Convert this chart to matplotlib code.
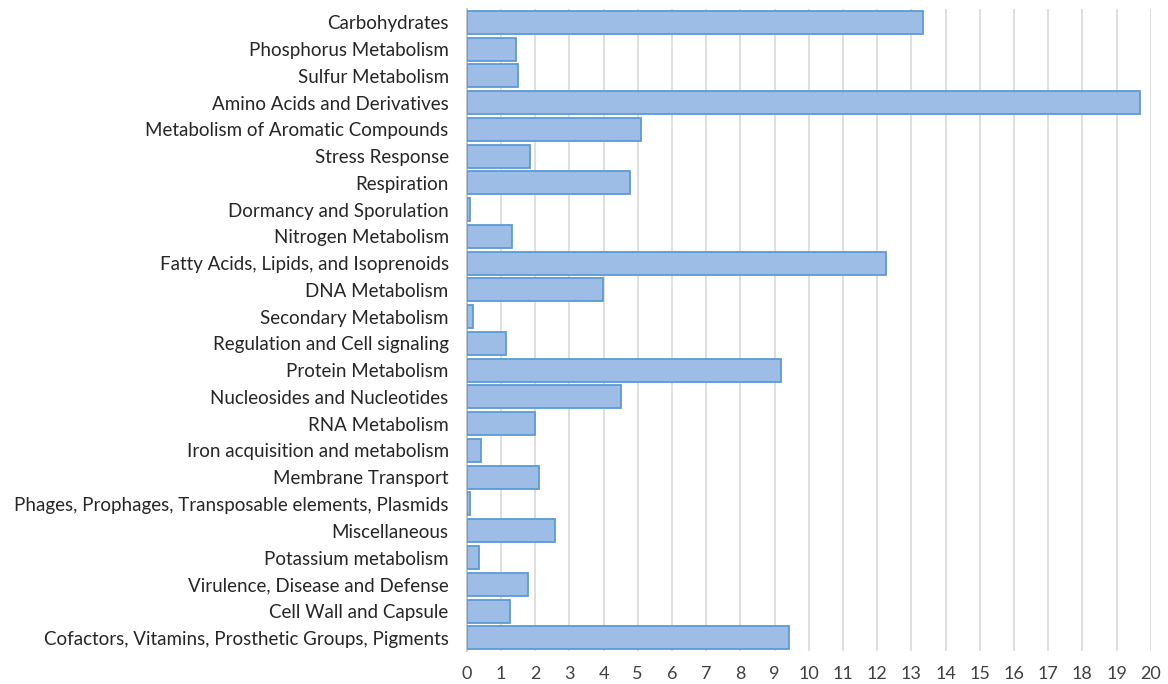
import matplotlib
matplotlib.use("Agg")
import matplotlib.pyplot as plt

plt.rcParams['font.family'] = ['Lato', 'DejaVu Sans']

categories = [
    "Carbohydrates",
    "Phosphorus Metabolism",
    "Sulfur Metabolism",
    "Amino Acids and Derivatives",
    "Metabolism of Aromatic Compounds",
    "Stress Response",
    "Respiration",
    "Dormancy and Sporulation",
    "Nitrogen Metabolism",
    "Fatty Acids, Lipids, and Isoprenoids",
    "DNA Metabolism",
    "Secondary Metabolism",
    "Regulation and Cell signaling",
    "Protein Metabolism",
    "Nucleosides and Nucleotides",
    "RNA Metabolism",
    "Iron acquisition and metabolism",
    "Membrane Transport",
    "Phages, Prophages, Transposable elements, Plasmids",
    "Miscellaneous",
    "Potassium metabolism",
    "Virulence, Disease and Defense",
    "Cell Wall and Capsule",
    "Cofactors, Vitamins, Prosthetic Groups, Pigments",
]
values = [13.35, 1.43, 1.50, 19.69, 5.11, 1.86, 4.78, 0.11, 1.31, 12.26,
          3.99, 0.17, 1.14, 9.19, 4.51, 1.99, 0.42, 2.10, 0.11, 2.59,
          0.35, 1.78, 1.27, 9.43]
xticks = list(range(0, 21))

fig = plt.figure(figsize=(11.68, 6.84), dpi=100)
ax = fig.add_axes([0.3996, 0.048, 0.5856, 0.939])

ypos = list(range(len(categories)))
ax.barh(ypos, values, height=0.86, color='#9DBDE6', edgecolor='#5B9BD5', linewidth=1.3, zorder=3)
ax.set_yticks(ypos)
ax.set_yticklabels(categories, fontsize=13.5, color='#262626')
ax.set_ylim(len(categories) - 0.5, -0.5)

ax.set_xlim(0, 20)
ax.set_xticks(xticks)
ax.set_xticklabels([str(t) for t in xticks], fontsize=13, color='#404040')
ax.xaxis.grid(True, color='#D9D9D9', linewidth=1.2, zorder=0)
ax.tick_params(axis='both', length=0)
ax.tick_params(axis='x', pad=11)
ax.tick_params(axis='y', pad=13)

for s in ['top', 'right', 'bottom']:
    ax.spines[s].set_visible(False)
ax.spines['left'].set_color('#BFBFBF')
ax.spines['left'].set_linewidth(1.2)

fig.savefig('out.png', dpi=100)
